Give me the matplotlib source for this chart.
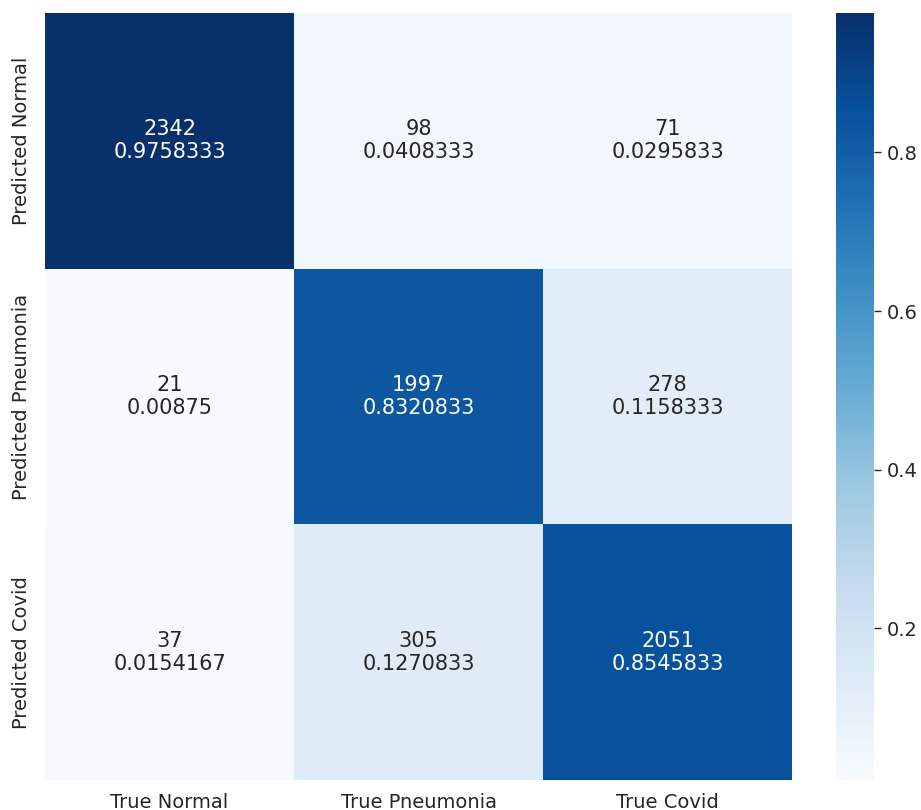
import numpy as np
import matplotlib
matplotlib.use("Agg")
import matplotlib.pyplot as plt
import seaborn as sns

row_labels = ["Predicted Normal", "Predicted Pneumonia", "Predicted Covid"]
col_labels = ["True Normal", "True Pneumonia", "True Covid"]
counts = np.array([
    [2342, 98, 71],
    [21, 1997, 278],
    [37, 305, 2051],
])
fractions = np.array([
    [0.9758333, 0.0408333, 0.0295833],
    [0.00875, 0.8320833, 0.1158333],
    [0.0154167, 0.1270833, 0.8545833],
])

sns.set_theme(style="white")
plt.rcParams['font.family'] = ['DejaVu Sans']

annot = np.array([[f"{c}\n{f:.7g}" for c, f in zip(rc, rf)] for rc, rf in zip(counts, fractions)])

fig = plt.figure(figsize=(9.21, 8.10), dpi=100)
ax = fig.add_axes([0.049, 0.037, 0.811, 0.947])
cax = fig.add_axes([0.908, 0.037, 0.041, 0.947])

sns.heatmap(fractions, annot=annot, fmt="", cmap="Blues", ax=ax, cbar_ax=cax,
            xticklabels=col_labels, yticklabels=row_labels,
            annot_kws={"fontsize": 15})
ax.tick_params(axis='x', labelsize=14, length=0, pad=9)
ax.tick_params(axis='y', labelsize=14, length=0, pad=10)
plt.setp(ax.get_yticklabels(), rotation=90, va='center')
cax.tick_params(labelsize=14, right=True, length=5, width=1, color='.15', pad=4)
cax.set_yticks([0.2, 0.4, 0.6, 0.8])
cax.set_yticklabels(["0.2", "0.4", "0.6", "0.8"])
for s in cax.spines.values():
    s.set_visible(False)

fig.savefig("out.png", dpi=100)
